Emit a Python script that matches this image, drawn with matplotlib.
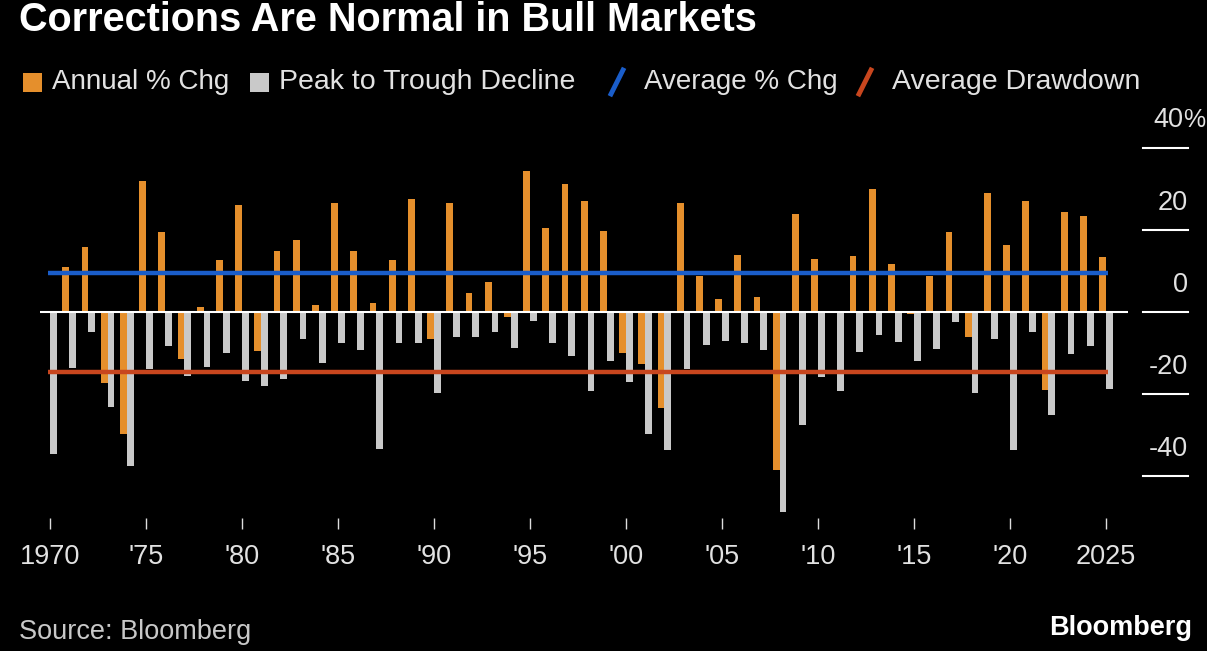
import matplotlib
matplotlib.use("Agg")
import matplotlib.pyplot as plt
import matplotlib.transforms as mtransforms
from matplotlib.lines import Line2D
from matplotlib.patches import Rectangle

years = list(range(1970, 2026))
annual_chg = [0.2, 11.0, 15.9, -17.2, -29.7, 31.9, 19.4, -11.4, 1.3, 12.6,
              26.2, -9.5, 15.0, 17.6, 1.6, 26.6, 14.9, 2.1, 12.6, 27.6,
              -6.5, 26.6, 4.6, 7.2, -1.2, 34.5, 20.6, 31.3, 27.0, 19.8,
              -9.9, -12.8, -23.3, 26.7, 8.9, 3.1, 13.8, 3.7, -38.5, 23.8,
              13.0, 0.1, 13.6, 29.9, 11.6, -0.4, 8.9, 19.5, -6.0, 29.0,
              16.4, 27.0, -19.1, 24.3, 23.4, 13.5]
peak_to_trough = [-34.7, -13.7, -4.9, -23.2, -37.6, -14.0, -8.2, -15.5, -13.4, -10.0,
                  -16.9, -18.1, -16.4, -6.7, -12.4, -7.5, -9.2, -33.5, -7.5, -7.5,
                  -19.8, -6.1, -6.1, -4.9, -8.8, -2.3, -7.5, -10.7, -19.2, -12.0,
                  -17.0, -29.7, -33.7, -13.9, -8.0, -7.1, -7.5, -9.3, -48.9, -27.6,
                  -15.9, -19.2, -9.8, -5.5, -7.2, -12.0, -9.0, -2.5, -19.7, -6.5,
                  -33.6, -4.9, -25.1, -10.2, -8.2, -18.9]
avg_chg = 9.4
avg_drawdown = -14.6
xtick_years = [1970, 1975, 1980, 1985, 1990, 1995, 2000, 2005, 2010, 2015, 2020, 2025]
xtick_labels = ["1970", "'75", "'80", "'85", "'90", "'95", "'00", "'05", "'10", "'15", "'20", "2025"]
ytick_values = [40, 20, 0, -20, -40]
ytick_labels = ["40", "20", "0", "-20", "-40"]

ORANGE = "#E58F2C"
GRAY = "#C9C9C9"
BLUE = "#1A5DC9"
RED = "#C8461E"
TEXT = "#e2e2e2"
FONT = "Liberation Sans"

W, H = 1207, 651
fig = plt.figure(figsize=(W / 100, H / 100), dpi=100, facecolor="black")

def fx(x):
    return x / W

def fy(y):
    return 1 - y / H

ax_left, ax_right, ax_top, ax_bottom = 40, 1128, 148, 518
ax = fig.add_axes([fx(ax_left), fy(ax_bottom), fx(ax_right - ax_left), fy(ax_top) - fy(ax_bottom)])
ax.set_facecolor("black")
ax.set_xlim(1969.479, 2026.146)
ax.set_ylim(-(ax_bottom - 312) / 4.1, 40)
for s in ax.spines.values():
    s.set_visible(False)

bw = 0.35
off = 0.18
ax.bar([y - off for y in years], annual_chg, width=bw, color=ORANGE, zorder=2)
ax.bar([y + off for y in years], peak_to_trough, width=bw, color=GRAY, zorder=2)
ax.axhline(0, color="white", lw=1.5, zorder=3)
ax.plot([1969.9, 2025.1], [avg_chg, avg_chg], color=BLUE, lw=3.2, zorder=4, solid_capstyle="butt")
ax.plot([1969.9, 2025.1], [avg_drawdown, avg_drawdown], color=RED, lw=3.2, zorder=4, solid_capstyle="butt")

ax.set_yticks([])
ax.set_xticks(xtick_years)
ax.set_xticklabels(xtick_labels, family=FONT, fontsize=19.5, color=TEXT)
ax.tick_params(axis="x", colors="#dddddd", length=8, width=1.0, pad=11, labelcolor=TEXT)

# y axis ticks to the right, outside the axes
trans = mtransforms.blended_transform_factory(fig.transFigure, ax.transData)
for v, lab in zip(ytick_values, ytick_labels):
    ax.add_line(Line2D([fx(1143), fx(1188)], [v, v], transform=trans, color="white", lw=1.5, clip_on=False))
    if v == 40:
        ax.text(fx(1183), v + 6.8, lab, transform=trans, ha="right", va="center",
                family=FONT, fontsize=19.5, color=TEXT, clip_on=False)
        ax.text(fx(1183), v + 6.8, "%", transform=trans, ha="left", va="center",
                family=FONT, fontsize=18, color=TEXT, clip_on=False)
    else:
        ax.text(fx(1188), v + 6.6, lab, transform=trans, ha="right", va="center",
                family=FONT, fontsize=19.5, color=TEXT, clip_on=False)

# title
fig.text(fx(19), fy(20), "Corrections Are Normal in Bull Markets", ha="left", va="center",
         family=FONT, fontweight="bold", fontsize=28.5, color="white")

# legend
ly = 82
fig.patches.append(Rectangle((fx(23), fy(92)), fx(19), fy(73) - fy(92), transform=fig.transFigure,
                             facecolor=ORANGE, edgecolor="none"))
fig.text(fx(52), fy(ly), "Annual % Chg", ha="left", va="center", family=FONT, fontsize=20, color=TEXT)
fig.patches.append(Rectangle((fx(250), fy(92)), fx(19), fy(73) - fy(92), transform=fig.transFigure,
                             facecolor=GRAY, edgecolor="none"))
fig.text(fx(279), fy(ly), "Peak to Trough Decline", ha="left", va="center", family=FONT, fontsize=20.5, color=TEXT)
fig.lines.append(Line2D([fx(611), fx(623)], [fy(94), fy(70)], transform=fig.transFigure, color=BLUE, lw=3.5))
fig.text(fx(644), fy(ly), "Average % Chg", ha="left", va="center", family=FONT, fontsize=20, color=TEXT)
fig.lines.append(Line2D([fx(859), fx(871)], [fy(94), fy(70)], transform=fig.transFigure, color=RED, lw=3.5))
fig.text(fx(892), fy(ly), "Average Drawdown", ha="left", va="center", family=FONT, fontsize=20.5, color=TEXT)

# footer
fig.text(fx(19), fy(632), "Source: Bloomberg", ha="left", va="center", family=FONT, fontsize=19.5, color="#c8c8c8")
fig.text(fx(1192), fy(628), "Bloomberg", ha="right", va="center", family=FONT, fontweight="bold",
         fontsize=19.5, color="white")

fig.savefig("out.png", dpi=100, facecolor="black")
